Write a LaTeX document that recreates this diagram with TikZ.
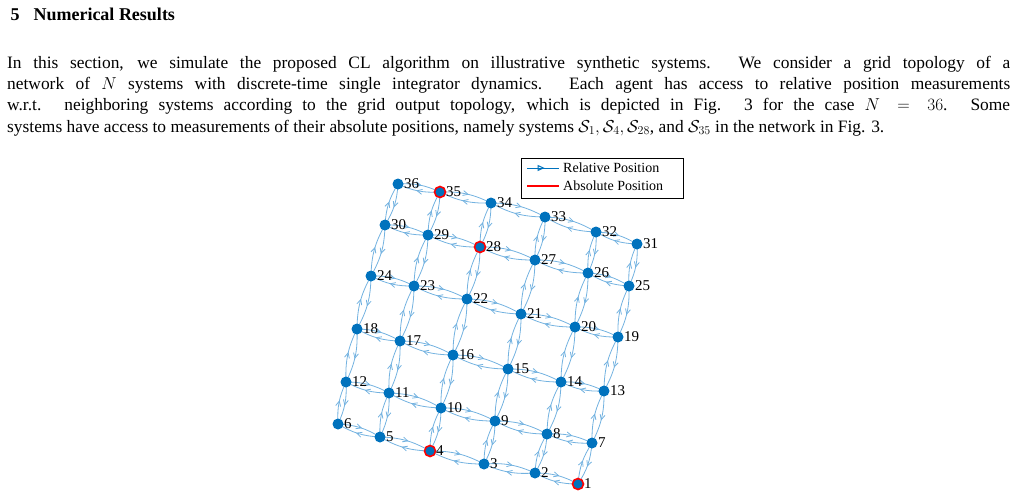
\documentclass[tikz,border=0pt]{standalone}
\usepackage{fontspec}
\setmainfont{Liberation Serif}
\usetikzlibrary{decorations.markings,arrows.meta}
\definecolor{mblue}{rgb}{0,0.447,0.741}
\definecolor{eblue}{rgb}{0.45,0.70,0.88}
\tikzset{
  agent/.style={circle, fill=mblue, inner sep=0pt, minimum size=11pt},
  anchorag/.style={agent, draw=red, line width=1.6pt},
  lbl/.style={font=\fontsize{15}{15}\selectfont, inner sep=0pt, anchor=west, xshift=6pt},
  link/.style={eblue, line width=0.8pt, bend left=14, postaction={decorate},
    decoration={markings, mark=at position 0.55 with {\arrow{Straight Barb[length=5pt,width=5pt]}}}}
}
\begin{document}
\begin{tikzpicture}[x=1pt, y=-1pt]
\useasboundingbox (0,0) rectangle (1017,498);
% heading and text
\node[anchor=west, font=\fontsize{18}{18}\selectfont\bfseries] (head) at (7,14) {5\hspace{14pt}Numerical Results};
\node[anchor=north west, inner sep=0pt, text width=1003pt, align=justify,
  font=\fontsize{17.4}{21.2}\selectfont] (body) at (7,56)
  {In this section, we simulate the proposed CL algorithm on illustrative synthetic systems. We consider a grid topology of a\linebreak
   network of $N$ systems with discrete-time single integrator dynamics. Each agent has access to relative position measurements\linebreak
   w.r.t. neighboring systems according to the grid output topology, which is depicted in Fig. 3 for the case $N=36$. Some\linebreak
   systems have access to measurements of their absolute positions, namely systems $\mathcal{S}_1, \mathcal{S}_4, \mathcal{S}_{28}$, and $\mathcal{S}_{35}$ in the network in Fig. 3.};
% agents
\foreach \n/\x/\y in {1/578/484, 2/535/473, 3/484/464, 4/430/451, 5/380/437, 6/338/424,
  7/592/443, 8/547/434, 9/495/421, 10/441/408, 11/389/393, 12/346/382,
  13/604/391, 14/561/382, 15/508/369, 16/453/355, 17/400/341, 18/357/329,
  19/618/337, 20/575/327, 21/521/314, 22/467/299, 23/414/286, 24/371/276,
  25/629/286, 26/588/273, 27/535/260, 28/480/247, 29/428/235, 30/385/225,
  31/637/244, 32/596/232, 33/545/217, 34/491/203, 35/440/192, 36/398/184}
  \coordinate (p\n) at (\x,\y);
% links
\foreach \r in {0,...,5}{
  \foreach \c in {1,...,5}{
    \pgfmathtruncatemacro{\a}{6*\r+\c}
    \pgfmathtruncatemacro{\b}{\a+1}
    \draw[link] (p\a) to (p\b);
    \draw[link] (p\b) to (p\a);
  }}
\foreach \a in {1,...,30}{
  \pgfmathtruncatemacro{\b}{\a+6}
  \draw[link] (p\a) to (p\b);
  \draw[link] (p\b) to (p\a);
}
\foreach \n in {1,...,36}{
  \node[agent] (s\n) at (p\n) {};
  \node[lbl] at (s\n.center) {\n};
}
\foreach \n in {1,4,28,35}
  \node[anchorag] at (p\n) {};
% legend
\node[draw, fill=white, line width=0.5pt, minimum width=162pt, minimum height=40pt, anchor=north west] (leg) at (521,158) {};
\coordinate (la) at (527,168);
\coordinate (lb) at (559,168);
\coordinate (lc) at (527,186);
\coordinate (ld) at (559,186);
\draw[mblue, line width=1pt, postaction={decorate}, decoration={markings, mark=at position 0.55 with {\arrow{Triangle[open,length=7pt,width=6pt]}}}] (la) -- (lb);
\draw[red, line width=1.2pt] (lc) -- (ld);
\node[anchor=west, font=\fontsize{14}{14}\selectfont, inner sep=0pt] at (563,168) {Relative Position};
\node[anchor=west, font=\fontsize{14}{14}\selectfont, inner sep=0pt] at (563,186) {Absolute Position};
\end{tikzpicture}
\end{document}
